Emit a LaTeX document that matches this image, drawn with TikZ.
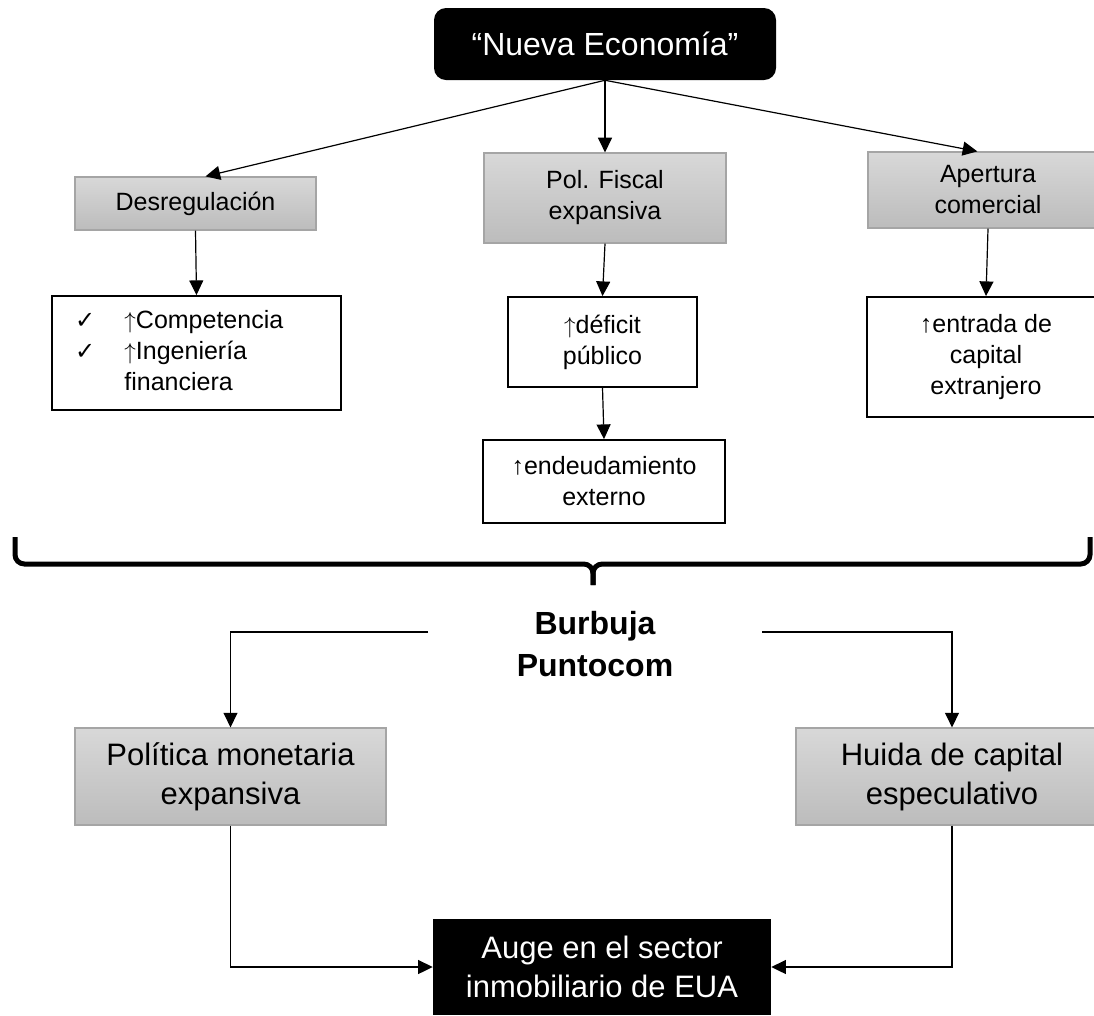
\documentclass[tikz,border=0pt]{standalone}
\usepackage{fontspec}
\setmainfont{Liberation Sans}
\newfontfamily\symfont{DejaVu Sans}
\usetikzlibrary{arrows.meta}
\definecolor{boxedge}{RGB}{165,165,165}
\definecolor{boxtop}{RGB}{216,216,216}
\definecolor{boxbottom}{RGB}{188,188,188}
\newcommand{\upwide}{$\uparrow$}
\newcommand{\chkmark}{{\symfont\fontsize{18}{18}\selectfont ✓}}

\begin{document}
\begin{tikzpicture}[x=0.75pt,y=0.75pt,yscale=-1,xscale=1,
  every node/.style={align=center, inner sep=0pt},
  blackbox/.style={fill=black, text=white},
  graybox/.style={draw=boxedge, line width=0.9pt, top color=boxtop, bottom color=boxbottom},
  whitebox/.style={draw=black, line width=1.4pt, fill=white},
  smalltext/.style={font=\fontsize{18.75}{23.25}\selectfont},
  bigtext/.style={font=\fontsize{23.25}{29.25}\selectfont},
  link/.style={line width=0.9pt, -{Triangle[length=11pt,width=10.5pt]}},
  bracket/.style={line width=3.75pt, rounded corners=7pt}
]
\useasboundingbox (0,0) rectangle (1094,1015);
\clip (0,0) rectangle (1094,1015);

% Top
\node[blackbox, rounded corners=9pt, minimum width=256.5pt, minimum height=54pt, font=\fontsize{24}{29}\selectfont] (nueva) at (605,44) {“Nueva Economía”};

% First level
\node[graybox, smalltext, minimum width=180.75pt, minimum height=39.75pt] (desreg) at (195.5,203.5) {Desregulación};
\node[graybox, smalltext, minimum width=181.5pt, minimum height=67.5pt] (fiscal) at (605,198) {Pol. Fiscal\\expansiva};
\node[graybox, smalltext, minimum width=180pt, minimum height=57pt] (apertura) at (988,190) {Apertura\\comercial};

% Effects
\node[whitebox, smalltext, align=left, text width=182.25pt, inner xsep=17.25pt, minimum height=85.5pt] (compet) at (196.5,353) {\begin{tabular}{@{}l@{\hspace{22pt}}l@{}}\chkmark & \upwide Competencia\\ \chkmark & \upwide Ingeniería\\ & financiera\end{tabular}};
\node[whitebox, smalltext, minimum width=141.75pt, minimum height=67.5pt] (deficit) at (602.5,342) {\upwide déficit\\público};
\node[whitebox, smalltext, minimum width=181.5pt, minimum height=62.25pt] (endeud) at (604,481.5) {↑endeudamiento\\externo};
\node[whitebox, smalltext, minimum width=178.5pt, minimum height=90pt] (entrada) at (986,357) {↑entrada de\\capital\\extranjero};

% Bracket
\draw[bracket] (15,537) |- (593,564) -- (593,585);
\draw[bracket] (1090,537) |- (593,564) -- (593,585);

\node[font=\fontsize{24}{31.5}\selectfont\bfseries] (burbuja) at (595,644) {Burbuja\\Puntocom};
\coordinate (bubleft) at (428,632);
\coordinate (bubright) at (762,632);

% Second level
\node[graybox, bigtext, minimum width=233.25pt, minimum height=72.75pt] (politica) at (230.5,776.5) {Política monetaria\\expansiva};
\node[graybox, bigtext, minimum width=234pt, minimum height=72.75pt] (huida) at (952,776.5) {Huida de capital\\especulativo};
\node[blackbox, bigtext, minimum width=253.5pt, minimum height=72pt] (auge) at (602,967) {Auge en el sector\\inmobiliario de EUA};

% Connectors
\draw[link] (nueva.south) -- ([xshift=7.5pt]desreg.north);
\draw[link] (nueva.south) -- (fiscal.north);
\draw[link] (nueva.south) -- ([xshift=-8pt]apertura.north);
\draw[link] (desreg.south) -- (compet.north);
\draw[link] (fiscal.south) -- (deficit.north);
\draw[link] (deficit.south) -- (endeud.north);
\draw[link] (apertura.south) -- (entrada.north);
\draw[link] (bubleft) -| (politica.north);
\draw[link] (bubright) -| (huida.north);
\draw[link] (politica.south) |- (auge.west);
\draw[link] (huida.south) |- (auge.east);

\end{tikzpicture}
\end{document}
